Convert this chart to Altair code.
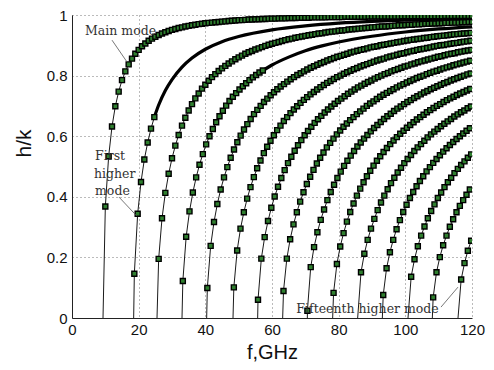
import altair as alt
import pandas as pd

# ---- data ----
CUTOFF_GHZ = [9.3, 18.5, 25.5, 33.0, 40.4, 48.3, 55.7, 63.2, 70.6, 78.2, 85.7, 93.1, 100.8, 108.1, 115.8]
FIRST_MARKER_GHZ = [10.0, 18.7, 26.0, 33.25, 40.6, 48.55, 55.8, 63.45, 70.62, 78.47, 86.7, 93.37, 101.75, 108.35, 116.75]
MARKER_STEP_GHZ = 1.0

Y_MODE_0 = [.368, .534, .632, .699, .747, .785, .814, .837, .856, .872,
            .885, .897, .906, .915, .922, .928, .934, .939, .943, .947,
            .951, .954, .957, .959, .962, .964, .966, .968, .970, .971,
            .973, .974, .975, .976, .977, .978, .979, .980, .981, .982,
            .983, .983, .984, .985, .985, .986, .986, .987, .987, .988,
            .988, .988, .989, .989, .989, .990, .990, .990, .991, .991,
            .991, .991, .992, .992, .992, .992, .992, .993, .993, .993,
            .993, .993, .994, .994, .994, .994, .994, .994, .994, .995,
            .995, .995, .995, .995, .995, .995, .995, .995, .995, .996,
            .996, .996, .996, .996, .996, .996, .996, .996, .996, .996,
            .996, .996, .997, .997, .997, .997, .997, .997, .997, .997,
            .997]
Y_MODE_1 = [.146, .344, .449, .523, .579, .625, .663]
Y_MODE_2 = [.195, .329, .413, .476, .527, .569, .604, .635, .661, .685,
            .706, .725, .741, .757, .770, .783, .795, .805, .815, .824,
            .832, .840, .847, .854, .860, .866, .872, .877, .881, .886,
            .890, .894, .898, .902, .905, .908, .911, .914, .917, .920,
            .922, .925, .927, .929, .931, .933, .935, .937, .939, .940,
            .942, .944, .945, .946, .948, .949, .950, .952, .953, .954,
            .955, .956, .957, .958, .959, .960, .961, .962, .962, .963,
            .964, .965, .966, .966, .967, .968, .968, .969, .969, .970,
            .971, .971, .972, .972, .973, .973, .974, .974, .975, .975,
            .975, .976, .976, .977, .977]
Y_MODE_3 = [.122, .268, .352, .414, .464, .506, .541, .573, .600, .624,
            .646, .666, .684, .701, .716, .730, .742, .754, .765, .775,
            .785, .794, .802, .810, .817]
Y_MODE_4 = [.099, .238, .317, .376, .424, .464, .498, .529, .556, .580,
            .602, .622, .640, .657, .673, .687, .700, .713, .724, .735,
            .745, .755, .764, .772, .780, .788, .795, .802, .808, .814,
            .820, .826, .831, .836, .841, .845, .850, .854, .858, .862,
            .865, .869, .872, .876, .879, .882, .885, .887, .890, .893,
            .895, .897, .900, .902, .904, .906, .908, .910, .912, .914,
            .916, .918, .919, .921, .922, .924, .925, .927, .928, .930,
            .931, .932, .933, .935, .936, .937, .938, .939, .940, .941]
Y_MODE_5 = [.101, .223, .295, .349, .394, .432, .465, .494, .520, .544,
            .565, .585, .603, .620, .635, .650, .663, .676, .688, .699,
            .710, .720, .729, .738, .746, .754, .762, .769, .776, .782,
            .789, .795, .800, .806, .811, .816, .821, .825, .830, .834,
            .838, .842, .846, .850, .853, .856, .860, .863, .866, .869,
            .872, .874, .877, .880, .882, .885, .887, .889, .891, .893,
            .896, .898, .900, .901, .903, .905, .907, .908, .910, .912,
            .913, .915]
Y_MODE_6 = [.060, .196, .267, .320, .364, .401, .433, .462, .488, .511,
            .532, .552, .570, .587, .603, .617, .631, .644, .656, .667,
            .678, .688, .698, .707, .716, .724, .732, .740, .747, .754,
            .761, .767, .773, .779, .784, .790, .795, .800, .805, .809,
            .814, .818, .822, .826, .830, .833, .837, .840, .844, .847,
            .850, .853, .856, .859, .862, .864, .867, .870, .872, .874,
            .877, .879, .881, .883, .885]
Y_MODE_7 = [.089, .196, .260, .309, .349, .384, .415, .442, .466, .489,
            .510, .529, .546, .563, .578, .592, .606, .619, .631, .642,
            .653, .663, .673, .682, .691, .700, .708, .715, .723, .730,
            .737, .743, .749, .755, .761, .767, .772, .777, .782, .787,
            .792, .796, .800, .805, .809, .813, .816, .820, .824, .827,
            .830, .834, .837, .840, .843, .846, .849]
Y_MODE_8 = [.024, .168, .234, .283, .324, .358, .389, .416, .440, .462,
            .483, .502, .519, .536, .551, .566, .579, .592, .604, .616,
            .627, .637, .647, .657, .666, .674, .683, .691, .698, .706,
            .713, .719, .726, .732, .738, .744, .749, .755, .760, .765,
            .770, .775, .779, .784, .788, .792, .796, .800, .804, .807]
Y_MODE_9 = [.083, .178, .236, .280, .318, .350, .378, .404, .427, .448,
            .468, .486, .503, .519, .534, .548, .561, .574, .586, .597,
            .608, .618, .628, .637, .646, .655, .663, .671, .679, .686,
            .693, .700, .706, .713, .719, .725, .730, .736, .741, .746,
            .751, .756]
Y_MODE_10 = [.151, .212, .258, .295, .327, .356, .381, .404, .425, .445,
             .463, .480, .496, .511, .525, .538, .551, .563, .574, .585,
             .596, .606, .615, .624, .633, .641, .649, .657, .665, .672,
             .679, .685, .692, .698]
Y_MODE_11 = [.076, .164, .217, .258, .293, .323, .350, .374, .396, .416,
             .435, .452, .468, .484, .498, .512, .525, .537, .549, .560,
             .571, .581, .591, .600, .609, .618, .626]
Y_MODE_12 = [.136, .194, .237, .272, .302, .329, .353, .375, .396, .414,
             .432, .448, .463, .478, .492, .505, .517, .529, .540]
Y_MODE_13 = [.068, .151, .201, .240, .272, .301, .326, .349, .370, .389, .407, .424]
Y_MODE_14 = [.127, .181, .222, .255]

MODE_Y = [Y_MODE_0, Y_MODE_1, Y_MODE_2, Y_MODE_3, Y_MODE_4, Y_MODE_5, Y_MODE_6,
          Y_MODE_7, Y_MODE_8, Y_MODE_9, Y_MODE_10, Y_MODE_11, Y_MODE_12, Y_MODE_13, Y_MODE_14]

# continuation of modes 1 and 3 drawn as heavy lines without markers
HEAVY_F_MODE_1 = [24.7, 26, 28, 30, 33, 36, 40, 45, 50, 60, 70, 80, 90, 100, 110, 120]
HEAVY_Y_MODE_1 = [.663, .703, .751, .787, .828, .858, .887, .912, .929, .951, .964, .973, .979, .983, .986, .988]
HEAVY_F_MODE_3 = [57.25, 60, 65, 70, 75, 80, 90, 100, 110, 120]
HEAVY_Y_MODE_3 = [.817, .835, .861, .882, .898, .911, .930, .944, .954, .961]

LABEL_TEXT = ["Main mode", "First", "higher", "mode", "Fifteenth higher mode"]
LABEL_F = [3.9, 6.9, 6.6, 6.9, 67.3]
LABEL_Y = [0.934, 0.521, 0.462, 0.406, 0.017]

LEADER_F1 = [12.0, 14.1, 110.7]
LEADER_Y1 = [0.917, 0.399, 0.036]
LEADER_F2 = [16.5, 19.4, 115.8]
LEADER_Y2 = [0.845, 0.337, 0.102]

X_TICKS = [0, 20, 40, 60, 80, 100, 120]
Y_TICKS = [0, 0.2, 0.4, 0.6, 0.8, 1]

# ---- tables ----
marker_rows, line_rows = [], []
for k, (fc, f0, ys) in enumerate(zip(CUTOFF_GHZ, FIRST_MARKER_GHZ, MODE_Y)):
    line_rows.append({"mode": k, "f": fc, "y": 0.0, "o": 0})
    for i, yv in enumerate(ys):
        f = f0 + i * MARKER_STEP_GHZ
        marker_rows.append({"mode": k, "f": f, "y": yv})
        line_rows.append({"mode": k, "f": f, "y": yv, "o": i + 1})
markers = pd.DataFrame(marker_rows)
lines = pd.DataFrame(line_rows)
heavy = pd.DataFrame(
    [{"mode": 1, "f": f, "y": y, "o": i} for i, (f, y) in enumerate(zip(HEAVY_F_MODE_1, HEAVY_Y_MODE_1))]
    + [{"mode": 3, "f": f, "y": y, "o": i} for i, (f, y) in enumerate(zip(HEAVY_F_MODE_3, HEAVY_Y_MODE_3))]
)
labels = pd.DataFrame({"text": LABEL_TEXT, "f": LABEL_F, "y": LABEL_Y})
leaders = pd.DataFrame({"f": LEADER_F1, "y": LEADER_Y1, "f2": LEADER_F2, "y2": LEADER_Y2})

xs = alt.Scale(domain=[0, 120], nice=False, zero=False)
ys_ = alt.Scale(domain=[0, 1], nice=False)

x_axis = alt.Axis(values=X_TICKS, title="f,GHz", grid=True, gridDash=[1, 3], gridColor="#777",
                  gridOpacity=1, ticks=False, domainColor="#222", labelFont="Liberation Sans",
                  labelFontSize=15, labelColor="#111", labelPadding=4, titleFont="Liberation Sans",
                  titleFontSize=20, titleFontWeight="normal", titleColor="#111",
                  titleBaseline="alphabetic", titleY=40, labelFlush=False)
y_axis = alt.Axis(values=Y_TICKS, format="~g", title="h/k", grid=True, gridDash=[1, 3], gridColor="#777",
                  gridOpacity=1, ticks=False, domainColor="#222", labelFont="Liberation Sans",
                  labelFontSize=15, labelColor="#111", labelPadding=5, titleFont="Liberation Sans",
                  titleFontSize=21, titleFontWeight="normal", titleColor="#111", titlePadding=12,
                  titleY=128, labelFlush=False)

base_line = alt.Chart(lines).mark_line(color="black", strokeWidth=0.9, clip=True).encode(
    x=alt.X("f:Q", scale=xs, axis=x_axis),
    y=alt.Y("y:Q", scale=ys_, axis=y_axis),
    detail="mode:N",
    order="o:Q",
)
heavy_line = alt.Chart(heavy).mark_line(color="black", strokeWidth=3.2, interpolate="monotone", clip=True).encode(
    x=alt.X("f:Q", scale=xs), y=alt.Y("y:Q", scale=ys_), detail="mode:N", order="o:Q"
)
pts = alt.Chart(markers).mark_point(shape="square", filled=True, fill="#2f7f2f", fillOpacity=1,
                                    stroke="black", strokeWidth=1.4, size=25, clip=True).encode(
    x=alt.X("f:Q", scale=xs), y=alt.Y("y:Q", scale=ys_)
)
lead = alt.Chart(leaders).mark_rule(color="#555", strokeWidth=0.8).encode(
    x=alt.X("f:Q", scale=xs), y=alt.Y("y:Q", scale=ys_), x2="f2:Q", y2="y2:Q"
)
txt = alt.Chart(labels).mark_text(align="left", baseline="alphabetic", font="DejaVu Serif",
                                  fontSize=12.5, color="#333").encode(
    x=alt.X("f:Q", scale=xs), y=alt.Y("y:Q", scale=ys_), text="text:N"
)

chart = alt.layer(base_line, heavy_line, pts, lead, txt).properties(
    width=400, height=303,
    autosize=alt.AutoSizeParams(type="none"),
    padding={"left": 64, "top": 7, "right": 14, "bottom": 44},
    background="white",
).configure_view(stroke=None)

chart.save("out.html", embed_options={"renderer": "svg", "actions": False})
